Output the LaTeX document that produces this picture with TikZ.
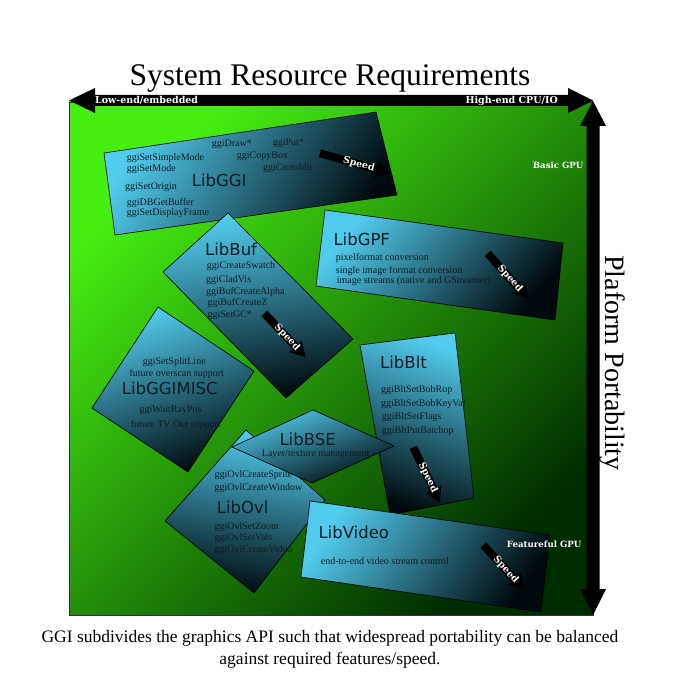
\documentclass[tikz,border=0pt]{standalone}
\usepackage{fontspec}
\setmainfont{Liberation Serif}
\newfontfamily\lblfont{DejaVu Serif}
\newfontfamily\libsans{DejaVu Sans}
\usetikzlibrary{arrows.meta}
\definecolor{greenlight}{RGB}{70,238,18}
\definecolor{greendark}{RGB}{0,45,0}
\definecolor{boxlight}{RGB}{82,204,238}
\definecolor{boxdark}{RGB}{0,10,14}
\definecolor{boxtext}{RGB}{14,28,36}
\tikzset{
  small/.style={anchor=base west, inner sep=0pt, font=\fontsize{10}{12}\selectfont, text=boxtext},
  libname/.style={anchor=base west, inner sep=0pt, font=\libsans\fontsize{16.5}{18}\selectfont, text=boxtext},
  whitelbl/.style={inner sep=0pt, text=white, font=\lblfont\bfseries\fontsize{8.6}{10}\selectfont},
  toplbl/.style={inner sep=0pt, text=white, font=\lblfont\bfseries\fontsize{9.5}{11}\selectfont},
  libbox/.style={draw=black, line width=0.6pt, top color=boxlight, bottom color=boxdark},
  spd/.style={line width=8pt, black, -{Triangle[width=16pt,length=15pt]}},
  spdtext/.style={sloped, pos=0.55, text=white, inner sep=0pt, font=\lblfont\bfseries\fontsize{9.5}{10}\selectfont},
  bigarrow/.style={fill=black},
}
\begin{document}
\begin{tikzpicture}[x=1pt,y=-1pt]
\useasboundingbox (0,0) rectangle (700,700);
\fill[white] (0,0) rectangle (700,700);

% green field
\shade[top color=greenlight, bottom color=greendark, shading angle=45] (69,102) rectangle (593,615);
\draw[black!80, line width=0.5pt] (69,102) rectangle (593,615);

% LibGGI
\path[libbox, shading angle=60] (104,153) -- (376,112) -- (397,195) -- (115,235) -- cycle;
\node[small] (g1) at (211.7,147) {ggiDraw*};
\node[small] (g2) at (272.7,146) {ggiPut*};
\node[small] (g3) at (126.7,160.7) {ggiSetSimpleMode};
\node[small] (g4) at (236.7,158.7) {ggiCopyBox};
\node[small] (g5) at (126.7,171.3) {ggiSetMode};
\node[small] (g6) at (263,170.7) {ggiCrossblit};
\node[libname] (ggi) at (191.7,187) {LibGGI};
\node[small] (g7) at (125,189.7) {ggiSetOrigin};
\node[small] (g8) at (126.7,205.7) {ggiDBGetBuffer};
\node[small] (g9) at (126.7,215.7) {ggiSetDisplayFrame};
\coordinate (ggiA) at (320,153.3);
\coordinate (ggiB) at (390.7,173.3);
\draw[spd] (ggiA) -- (ggiB) node[spdtext] (ggispd) {Speed};

% LibGPF
\path[libbox, shading angle=50] (325,210) -- (563,243) -- (555,320) -- (316,286) -- cycle;
\node[libname] (gpf) at (333.3,246) {LibGPF};
\node[small] (p1) at (335.7,260.7) {pixelformat conversion};
\node[small] (p2) at (335.7,273) {single image format conversion};
\node[small] (p3) at (336.7,283) {image streams (native and GStreamer)};
\coordinate (gpfA) at (487.7,253.3);
\coordinate (gpfB) at (528.3,299.3);
\draw[spd] (gpfA) -- (gpfB) node[spdtext] (gpfspd) {Speed};

% LibBuf
\path[libbox, shading angle=10] (228,213) -- (353,339) -- (286,398) -- (163,272) -- cycle;
\node[libname] (buf) at (205,255) {LibBuf};
\node[small] (b1) at (206.7,268.7) {ggiCreateSwatch};
\node[small] (b2) at (206,282) {ggiCladVis};
\node[small] (b3) at (206,294) {ggiBufCreateAlpha};
\node[small] (b4) at (207.3,305.3) {ggiBufCreateZ};
\node[small] (b5) at (207.3,317.3) {ggiSetGC*};
\coordinate (bufA) at (264.3,313.3);
\coordinate (bufB) at (305.7,357.3);
\draw[spd] (bufA) -- (bufB) node[spdtext] (bufspd) {Speed};

% LibGGIMISC
\path[libbox, shading angle=20] (158,307) -- (254,371) -- (188,472) -- (92,408) -- cycle;
\node[small] (m1) at (142.7,364.7) {ggiSetSplitLine};
\node[small] (m2) at (129.3,376.3) {future overscan support};
\node[libname] (misc) at (121.7,394.3) {LibGGIMISC};
\node[small] (m3) at (139.3,412.3) {ggiWaitRayPos};
\node[small] (m4) at (130.7,427) {future TV Out support};

% LibBlt
\path[libbox, shading angle=-20] (360,345) -- (455,333) -- (474,498) -- (390,515) -- cycle;
\node[libname] (blt) at (380,368) {LibBlt};
\node[small] (t1) at (381,392) {ggiBltSetBobRop};
\node[small] (t2) at (381,406.3) {ggiBltSetBobKeyVal};
\node[small] (t3) at (381.7,419) {ggiBltSetFlags};
\node[small] (t4) at (381.7,433.7) {ggiBltPutBatchop};
\coordinate (bltA) at (413.3,447.3);
\coordinate (bltB) at (440,502.7);
\draw[spd] (bltA) -- (bltB) node[spdtext] (bltspd) {Speed};

% LibOvl
\path[libbox, shading angle=-10] (246,430) -- (325,500) -- (254,593) -- (165,521) -- cycle;
\node[small] (o1) at (214.3,477) {ggiOvlCreateSprite};
\node[small] (o2) at (214.3,490.3) {ggiOvlCreateWindow};
\node[libname] (ovl) at (216.7,513) {LibOvl};
\node[small] (o3) at (214.3,529) {ggiOvlSetZoom};
\node[small] (o4) at (214.3,540.3) {ggiOvlSetVals};
\node[small] (o5) at (214.3,552) {ggiOvlCreateVideo};

% LibBSE
\path[libbox, shading angle=20] (232,447) -- (313,410) -- (394,446) -- (312,483) -- cycle;
\node[libname] (bse) at (279.3,445) {LibBSE};
\node[small] (s1) at (261.7,456.3) {Layer/texture management};

% LibVideo
\path[libbox, shading angle=55] (310,501) -- (550,535) -- (541,612) -- (301,577) -- cycle;
\node[libname] (video) at (318.3,538.3) {LibVideo};
\node[small] (v1) at (320.7,564) {end-to-end video stream control};
\coordinate (vidA) at (483.3,545);
\coordinate (vidB) at (524.3,590);
\draw[spd] (vidA) -- (vidB) node[spdtext] (vidspd) {Speed};

% axis arrows
\path[bigarrow] (69,100.5) -- (95,88) -- (95,95) -- (568,95) -- (568,88) -- (593,100.5)
  -- (568,113) -- (568,106) -- (95,106) -- (95,113) -- cycle;
\path[bigarrow] (593,101) -- (606,126) -- (599.5,126) -- (599.5,589) -- (606,589) -- (593,615)
  -- (580,589) -- (586.5,589) -- (586.5,126) -- (580,126) -- cycle;

% labels
\node[toplbl, anchor=base west] (lowend) at (95,104) {Low-end/embedded};
\node[toplbl, anchor=base east] (highend) at (558,104) {High-end CPU/IO};
\node[whitelbl, anchor=base west] (basic) at (532.7,169) {Basic GPU};
\node[whitelbl, anchor=base west] (featureful) at (506.7,547.3) {Featureful GPU};

\node[anchor=base, inner sep=0pt, font=\fontsize{31.5}{36}\selectfont] (title) at (330,86) {System Resource Requirements};
\node[rotate=-90, anchor=base, inner sep=0pt, font=\fontsize{28}{32}\selectfont] (plat) at (605,363) {Plaform Portability};

\node[anchor=base, inner sep=0pt, font=\fontsize{17.5}{20}\selectfont] (cap1) at (330,642) {GGI subdivides the graphics API such that widespread portability can be balanced};
\node[anchor=base, inner sep=0pt, font=\fontsize{17.5}{20}\selectfont] (cap2) at (330,664) {against required features/speed.};
\end{tikzpicture}
\end{document}
